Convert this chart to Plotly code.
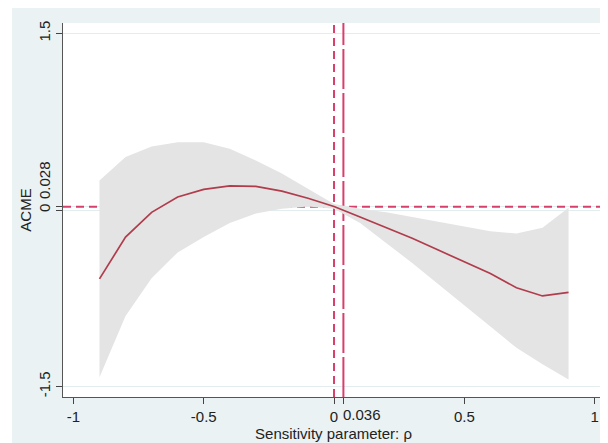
import plotly.graph_objects as go

# Data
rho = [-0.9, -0.8, -0.7, -0.6, -0.5, -0.4, -0.3, -0.2, -0.1, 0.0,
       0.1, 0.2, 0.3, 0.4, 0.5, 0.6, 0.7, 0.8, 0.9]
acme = [-0.585, -0.23, -0.02, 0.11, 0.175, 0.205, 0.20, 0.16, 0.10, 0.03,
        -0.06, -0.15, -0.24, -0.34, -0.44, -0.54, -0.66, -0.73, -0.70]
upper = [0.25, 0.45, 0.54, 0.575, 0.575, 0.52, 0.42, 0.31, 0.18, 0.05,
         0.01, -0.02, -0.06, -0.10, -0.14, -0.18, -0.20, -0.15, 0.02]
lower = [-1.42, -0.90, -0.58, -0.36, -0.23, -0.11, -0.03, 0.01, 0.03, 0.01,
         -0.11, -0.28, -0.45, -0.63, -0.81, -0.99, -1.17, -1.31, -1.44]

x_ticks = [-1, -0.5, 0, 0.036, 0.5, 1]
x_ticktext = ["-1", "-0.5", "0", "", "0.5", "1"]
y_ticks = [-1.5, 0, 0.028, 1.5]
y_ticktext = ["-1.5", "0", "", "1.5"]
x_mark = 0.036
y_mark = 0.028

LINE = "#B03C4C"
REF = "#D8406C"
BAND = "#E4E4E4"
FONT = "Liberation Sans, Arial, sans-serif"

xr = [-1.04, 1.036]
yr = [-1.588, 1.588]

W, H = 600, 435
L, R, T, B = 55, 4, 15, 46
PW = W - L - R

fig = go.Figure()

# reference lines (under the band)
fig.add_trace(go.Scatter(x=xr, y=[y_mark, y_mark], mode="lines",
                         line=dict(color=REF, width=2, dash="8px,5px"),
                         hoverinfo="skip", showlegend=False))
fig.add_trace(go.Scatter(x=[0, 0], y=yr, mode="lines",
                         line=dict(color=REF, width=2, dash="8px,5px"),
                         hoverinfo="skip", showlegend=False))
fig.add_trace(go.Scatter(x=[x_mark, x_mark], y=yr, mode="lines",
                         line=dict(color=REF, width=2, dash="40px,4px"),
                         hoverinfo="skip", showlegend=False))

# confidence band
fig.add_trace(go.Scatter(x=rho + rho[::-1], y=upper + lower[::-1],
                         fill="toself", fillcolor=BAND, mode="lines",
                         line=dict(width=0, color=BAND),
                         hoverinfo="skip", showlegend=False))
# ACME line
fig.add_trace(go.Scatter(x=rho, y=acme, mode="lines",
                         line=dict(color=LINE, width=1.7),
                         showlegend=False))

fig.update_layout(
    width=W, height=H,
    margin=dict(l=L, r=R, t=T, b=B),
    paper_bgcolor="#EAF2F3",
    plot_bgcolor="white",
    font=dict(family=FONT, size=15, color="#222"),
    xaxis=dict(range=xr, tickvals=x_ticks, ticktext=x_ticktext,
               ticks="outside", ticklen=6, tickcolor="#444",
               showline=True, linecolor="#555", linewidth=1.2,
               showgrid=False, zeroline=False,
               title=dict(text="Sensitivity parameter: ρ", standoff=2,
                          font=dict(size=15))),
    yaxis=dict(range=yr, tickvals=y_ticks, ticktext=y_ticktext,
               tickangle=-90, ticks="outside", ticklen=6, tickcolor="#444",
               showline=True, linecolor="#555", linewidth=1.2,
               showgrid=True, gridcolor="#E3EDF0", gridwidth=1,
               zeroline=False,
               title=dict(text="ACME", standoff=0, font=dict(size=15))),
    annotations=[
        dict(text="0.036", x=x_mark, xref="x", xanchor="left", xshift=-2,
             y=0, yref="paper", yanchor="top", yshift=-7,
             showarrow=False, font=dict(size=15, color="#222")),
        dict(text="0.028", textangle=-90, x=0, xref="paper",
             xanchor="right", xshift=-8, y=0.25, yref="y",
             yanchor="middle", showarrow=False,
             font=dict(size=15, color="#222")),
    ],
    shapes=[
        dict(type="rect", xref="paper", yref="paper",
             x0=-L / PW - 0.01, x1=(-L + 4) / PW,
             y0=-0.3, y1=1.3, fillcolor="white", line=dict(width=0),
             layer="below"),
    ],
)

fig.write_html("out.html")
